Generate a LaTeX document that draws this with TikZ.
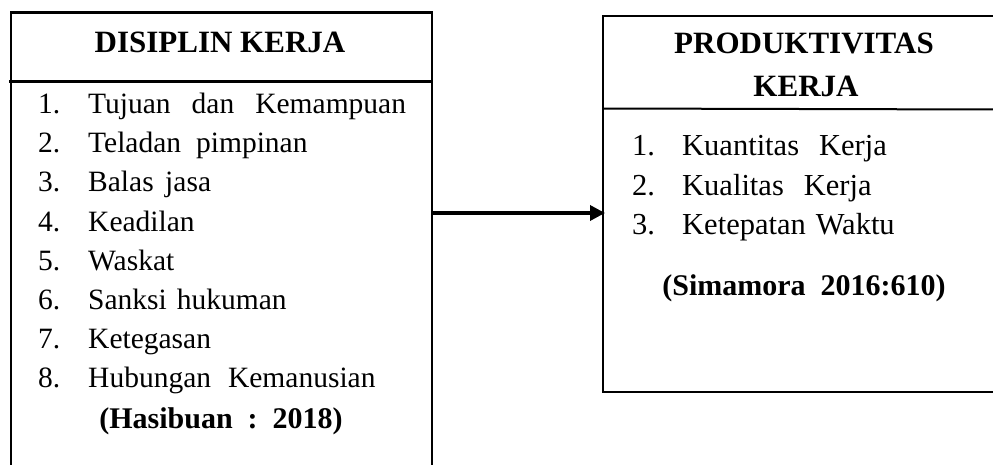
\documentclass[tikz,border=0pt]{standalone}
\usepackage{fontspec}
\setmainfont{Liberation Serif}
\usetikzlibrary{arrows.meta}
\begin{document}
\begin{tikzpicture}[x=1pt,y=-1pt,
  boxline/.style={line width=2.4pt},
  num/.style={anchor=base west,inner sep=0pt,font=\fontsize{29.5}{36}\selectfont},
  txt/.style={anchor=base west,inner sep=0pt,font=\fontsize{29.5}{36}\selectfont},
  rnum/.style={anchor=base west,inner sep=0pt,font=\fontsize{30.5}{36}\selectfont},
  rtxt/.style={anchor=base west,inner sep=0pt,font=\fontsize{30.5}{36}\selectfont},
  ttl/.style={anchor=base,inner sep=0pt,font=\fontsize{31}{36}\selectfont\bfseries},
  src/.style={anchor=base,inner sep=0pt,font=\fontsize{30}{36}\selectfont\bfseries},
  conn/.style={line width=3.4pt,-{Triangle[length=15pt,width=15pt]}},
]
\useasboundingbox (0,0) rectangle (993,465);
% left box
\draw[boxline] (11,466) -- (11,12.7) -- (431.7,12.7) -- (431.7,466);
\draw[boxline] (9,81.7) -- (431.7,81.7);
% right box
\draw[boxline] (994,16) -- (603,16) -- (603,392) -- (994,392);
\draw[line width=2pt] (603,108.5) -- (994,109.5);
% titles
\node[ttl] (t1) at (220,53) {DISIPLIN KERJA};
\node[ttl] (t2) at (804,54) {PRODUKTIVITAS};
\node[ttl] (t3) at (806,97) {KERJA};
% left items
\foreach \i/\t [count=\k from 0] in {
  1/Tujuan\hspace{21pt}dan\hspace{21pt}Kemampuan,
  2/Teladan\hspace{15pt}pimpinan,
  3/Balas\hspace{11.5pt}jasa,
  4/Keadilan,
  5/Waskat,
  6/Sanksi\hspace{10pt}hukuman,
  7/Ketegasan,
  8/Hubungan\hspace{17pt}Kemanusian}{
  \node[num] (ln\i) at (38,113.5+39.2*\k) {\i.};
  \node[txt] (lt\i) at (88,113.5+39.2*\k) {\t};
}
\node[src] (src1) at (221,428) {(Hasibuan\ \ :\ \ 2018)};
% right items
\foreach \i/\t [count=\k from 0] in {
  1/Kuantitas\hspace{20pt}Kerja,
  2/Kualitas\hspace{20pt}Kerja,
  3/Ketepatan\hspace{10pt}Waktu}{
  \node[rnum] (rn\i) at (632,156+39.5*\k) {\i.};
  \node[rtxt] (rt\i) at (682,156+39.5*\k) {\t};
}
\node[src] (src2) at (804,295) {(Simamora\ \ 2016:610)};
% connector
\coordinate (Lmid) at (431.7,213);
\coordinate (Rmid) at (605,213);
\draw[conn] (Lmid) -- (Rmid);
\end{tikzpicture}
\end{document}
